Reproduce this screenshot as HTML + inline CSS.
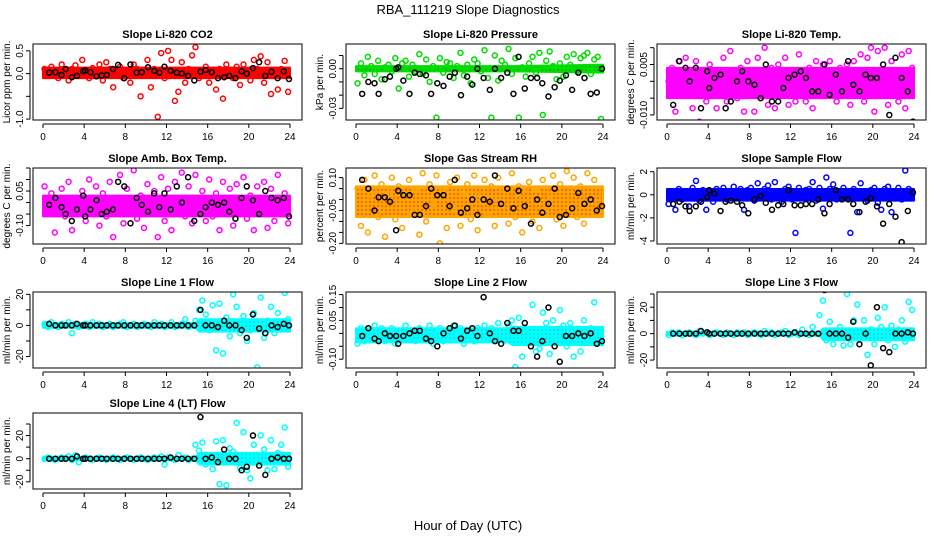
<!DOCTYPE html>
<html><head><meta charset="utf-8"><style>
html,body{margin:0;padding:0;background:#fff;}
svg{display:block;font-family:"Liberation Sans",sans-serif;}
</style></head><body>
<svg id="chart" width="936" height="540" viewBox="0 0 936 540" xmlns="http://www.w3.org/2000/svg">
<text x="468" y="14" font-size="13" text-anchor="middle">RBA_111219  Slope Diagnostics</text>
<text x="468" y="530" font-size="13" text-anchor="middle">Hour of Day (UTC)</text>
</svg>
<script>
const xTicks=[0,4,8,12,16,20,24];
const blackHours=[0.6,1.2,1.8,2.2,2.8,3.3,3.9,4.1,4.6,5.2,5.7,6.2,6.8,7.3,7.9,8.5,9.1,9.6,10.2,10.8,11.3,11.8,12.4,13.0,13.5,14.1,14.7,15.3,15.8,16.4,17.0,17.6,18.1,18.7,19.3,19.8,20.4,21.0,21.6,22.2,22.8,23.4,23.9];
const bandHours=[0,14.8,15.2,24];

const co2=[0.1,-0.05,0.15,0.0,-0.1,0.2,0.05,-0.15,0.1,0.18,-0.05,0.3,0.05,-0.1,0.12,0.0,0.2,-0.15,0.25,0.1,-0.3,0.05,0.15,-0.1,0.0,-0.2,0.2,0.1,-0.5,0.05,0.3,-0.3,0.1,-0.95,0.45,-0.1,0.5,0.3,-0.6,-0.4,0.25,-0.2,0.1,0.4,0.58,-0.1,0.0,0.15,-0.2,0.05,-0.35,0.1,-0.55,0.2,0.0,-0.1,0.15,-0.25,0.2,0.05,-0.15,0.3,0.1,0.38,-0.2,0.25,-0.45,0.0,-0.35,0.1,0.28,-0.4];
const co2Blk=[0.02,0.03,-0.03,0.1,-0.08,-0.05,0.05,0.07,0.03,-0.06,-0.04,-0.03,0.1,0.19,-0.1,0.2,0.02,0.03,0.14,0.06,0.02,0.15,0.06,0.02,0.0,-0.05,-0.15,0.04,0.08,0.03,-0.1,-0.08,-0.05,-0.1,0.05,0.0,0.12,0.25,-0.05,0.04,-0.1,0.05,-0.12];
const co2Lo=[-0.1,-0.1,-0.1,-0.1], co2Hi=[0.13,0.13,0.13,0.13];

const pres=[-0.011,0.004,-0.005,0.009,0.002,-0.004,0.006,-0.008,0.001,0.003,-0.002,0.008,-0.015,0.004,0.006,-0.006,0.003,-0.002,0.011,-0.004,0.007,-0.01,0.002,-0.037,0.008,-0.003,0.005,0.004,-0.007,0.002,0.012,-0.005,0.003,-0.011,0.007,0.004,-0.002,0.014,-0.007,-0.037,0.010,-0.009,0.006,0.003,0.015,-0.004,0.008,-0.037,0.001,-0.006,0.004,0.009,-0.003,0.012,-0.035,0.006,0.013,0.002,-0.008,0.004,-0.006,0.009,0.003,0.011,-0.002,0.008,0.01,0.012,-0.004,0.007,0.009,-0.038];
const presBlk=[-0.019,-0.01,-0.011,-0.019,-0.008,-0.006,0.0,0.001,-0.009,-0.019,-0.003,-0.004,-0.005,-0.019,-0.011,-0.013,-0.006,-0.003,-0.02,-0.006,-0.012,0.0,-0.007,-0.016,0.0,-0.007,-0.003,-0.019,0.009,-0.015,-0.007,-0.007,-0.011,-0.021,-0.014,-0.009,-0.005,-0.016,-0.003,-0.007,-0.019,-0.018,0.0];
const presLo=[-0.002,-0.002,-0.002,-0.003], presHi=[0.002,0.002,0.002,0.003];

const t820=[0.0,0.004,-0.009,0.006,-0.004,0.007,0.002,-0.008,0.006,-0.012,0.003,-0.006,0.005,-0.002,-0.008,0.001,0.007,-0.006,0.009,0.002,-0.005,0.004,-0.009,0.006,0.003,-0.009,0.007,-0.003,0.010,-0.007,0.004,-0.008,0.005,-0.002,0.007,-0.007,0.003,-0.006,0.008,0.001,-0.006,0.004,-0.008,0.006,-0.003,0.005,-0.002,0.006,0.001,-0.006,0.004,-0.003,0.005,-0.007,0.006,-0.002,0.008,-0.006,0.007,0.010,-0.009,0.009,-0.004,0.010,-0.007,0.006,0.003,-0.006,0.008,-0.008,0.009,0.004];
const t820Blk=[-0.007,0.006,0.004,0.0,0.004,-0.008,0.003,-0.002,0.001,0.002,-0.008,-0.006,0.0,0.003,0.0,-0.001,-0.005,0.005,-0.006,-0.006,-0.002,0.001,0.002,0.003,0.001,-0.003,-0.003,0.005,-0.004,0.002,-0.003,0.006,-0.001,-0.003,0.002,0.001,0.001,0.005,-0.01,0.007,0.001,-0.003,-0.012];
const t820Lo=[-0.005,-0.005,-0.005,-0.005], t820Hi=[0.004,0.004,0.004,0.004];

const amb=[0.07,-0.03,0.04,-0.13,0.01,0.06,-0.06,0.09,-0.12,0.02,-0.05,0.05,-0.08,0.10,-0.03,0.07,-0.10,0.04,-0.06,0.09,-0.15,0.02,0.12,-0.09,0.06,-0.04,0.14,-0.07,0.03,-0.11,0.08,-0.02,0.05,-0.15,0.11,-0.08,0.06,-0.12,0.09,-0.04,0.13,-0.06,0.07,-0.09,0.12,-0.03,0.05,-0.08,0.10,-0.06,0.04,-0.12,0.09,-0.02,0.06,-0.10,0.08,-0.05,0.11,-0.07,0.03,-0.12,0.07,-0.04,0.09,-0.11,0.06,-0.08,0.12,-0.05,0.04,-0.09];
const ambBlk=[-0.01,0.02,-0.02,-0.05,-0.08,-0.03,0.03,-0.06,-0.03,0.01,-0.05,-0.04,-0.03,0.09,0.07,-0.09,0.02,-0.01,-0.04,0.04,-0.02,0.04,-0.03,0.07,0.0,0.11,-0.08,-0.05,-0.02,0.0,-0.01,0.0,-0.04,-0.07,0.02,0.07,0.01,-0.05,0.05,0.02,0.01,0.02,-0.06];
const ambLo=[-0.06,-0.06,-0.06,-0.06], ambHi=[0.03,0.03,0.03,0.03];

const rh=[0.05,-0.12,0.09,-0.15,0.02,0.11,-0.08,0.07,-0.17,0.03,0.10,-0.09,0.06,-0.13,0.01,0.09,-0.06,0.04,-0.16,0.12,-0.10,0.07,-0.02,0.11,-0.20,0.05,-0.13,0.08,-0.04,0.10,-0.12,0.03,0.07,-0.09,0.11,-0.14,0.02,0.09,-0.07,0.06,-0.12,0.10,-0.05,0.04,-0.11,0.12,-0.08,0.06,-0.15,0.03,0.08,-0.10,0.05,-0.13,0.09,-0.06,0.02,0.11,-0.09,0.07,-0.12,0.13,-0.04,0.10,-0.08,0.06,-0.11,0.12,-0.07,0.09,-0.03,-0.06];
const rhBlk=[0.09,0.05,-0.05,0.01,0.01,-0.01,-0.14,0.04,0.02,0.02,-0.07,-0.07,-0.03,0.05,0.02,0.02,-0.03,0.09,-0.06,-0.04,0.0,-0.07,0.0,-0.01,0.11,-0.02,0.05,-0.04,0.04,-0.03,-0.11,0.0,-0.06,-0.02,0.05,-0.08,-0.07,-0.04,0.03,-0.02,0.0,-0.05,-0.03];
const rhLo=[-0.08,-0.08,-0.08,-0.08], rhHi=[0.06,0.06,0.06,0.06];

const sf=[-0.8,0.3,-1.3,0.5,-0.4,0.2,-1.0,0.6,1.2,-0.5,0.4,-1.3,0.3,-0.6,0.5,-0.2,0.6,-0.4,0.3,0.7,-0.3,0.5,-1.3,0.4,0.6,-0.5,1.0,-0.3,0.5,0.8,-0.4,1.1,0.3,-0.6,0.5,0.7,-0.4,-3.3,0.6,-0.3,0.4,0.5,1.1,-0.5,0.6,-1.2,1.5,0.5,0.9,-0.4,0.3,0.6,-0.3,-3.3,0.5,-1.5,1.0,0.3,-0.5,0.4,0.6,-0.7,-1.3,0.5,0.7,-1.5,0.3,0.6,-0.4,2.1,0.5,0.0];
const sfBlk=[-0.8,-0.6,-1.0,-1.4,-1.0,-0.6,-0.2,0.4,0.1,-1.4,-0.6,-0.5,-0.6,-0.9,-1.6,-0.4,-0.1,-0.7,-1.3,-0.9,-0.8,0.4,-0.9,-0.9,-0.8,-0.8,-0.4,-1.6,-0.8,0.4,-0.4,-0.4,-0.8,-1.5,-0.6,-0.3,-1.0,-2.5,-0.8,-1.9,-4.1,-1.4,0.2];
const sfLo=[-0.5,-0.5,-0.5,-0.5], sfHi=[0.5,0.5,0.5,0.5];

const l1=[1,-1,2,0,-1,1,0,2,-5,1,-1,0,1,-1,2,0,1,-1,0,1,-1,0,1,2,-1,0,1,-1,0,1,0,-1,2,0,1,-1,0,2,-1,0,1,4,-1,0,3,10,16,7,-3,13,-16,14,-18,5,-7,20,12,-5,6,-10,-3,8,-27,18,-8,3,12,-5,8,-2,21,4];
const l1Blk=[1,0,0,0,0,1,0,0,0,0,0,0,0,0,0,0,0,0,0,0,0,0,0,0,0,0,0,10,0,0,-1,3,0,0,-3,-8,7,-2,-5,0,-1,1,0];
const l1Lo=[-1.5,-1.5,-4,-4], l1Hi=[1.5,1.5,4,4];

const l2=[-0.04,0.02,-0.03,0.01,-0.02,0.03,-0.01,0.02,-0.03,0.0,0.02,-0.04,0.01,-0.02,0.03,-0.01,0.0,-0.03,0.02,-0.02,0.01,0.03,-0.04,0.0,0.02,-0.03,0.01,-0.02,0.03,-0.01,0.02,-0.04,0.0,0.01,-0.03,0.02,-0.02,0.03,-0.01,0.02,-0.03,0.04,0.0,-0.02,0.03,0.05,-0.13,0.06,-0.09,0.02,-0.03,0.11,-0.07,-0.06,0.08,0.04,-0.08,0.05,-0.02,0.09,0.03,-0.05,0.04,-0.09,0.01,-0.07,0.05,-0.03,0.02,0.12,-0.04,0.01];
const l2Blk=[-0.01,0.02,-0.02,-0.03,0.0,-0.01,-0.01,-0.04,-0.01,0.0,0.01,0.01,-0.02,-0.03,-0.05,0.0,0.02,0.03,-0.02,0.01,0.02,-0.01,0.14,0.0,-0.03,-0.04,0.04,0.01,0.01,0.04,-0.05,-0.09,-0.03,0.1,-0.05,-0.11,-0.01,-0.01,0.0,-0.01,0.0,-0.04,-0.03];
const l2Lo=[-0.035,-0.035,-0.045,-0.045], l2Hi=[0.02,0.02,0.025,0.025];

const l3=[-1,1,0,1,-1,0,1,0,-1,2,0,1,-1,0,1,0,-1,1,0,-1,1,0,1,-1,0,1,0,-1,2,0,1,-1,0,1,2,-1,0,1,-1,3,0,-1,5,0,14,25,-5,9,-8,2,5,-9,30,-8,10,22,-3,10,-16,3,-8,12,5,20,-5,6,-10,3,10,-6,24,18];
const l3Blk=[0,0,0,0,0,2,1,0,0,0,0,0,0,0,0,0,0,0,0,0,0,0,1,0,0,0,0,33,0,0,0,-3,9,-8,0,-24,20,-11,-14,0,0,1,0];
const l3Lo=[-1.2,-1.2,-5,-5], l3Hi=[1.2,1.2,4,4];

const l4=[0,1,0,-1,0,1,0,2,-1,3,-3,0,1,0,-1,0,1,0,-1,0,1,0,-1,0,1,0,-1,0,1,0,-1,0,1,0,2,-5,1,0,-1,3,0,1,-1,0,12,7,14,-5,3,-9,15,-22,16,-23,9,6,31,-8,23,-10,-17,12,-2,20,8,-10,16,-9,5,12,27,-7];
const l4Blk=[0,0,0,0,0,2,0,0,0,0,0,0,0,0,0,0,0,0,0,0,0,0,1,0,0,0,0,36,0,1,-3,8,0,0,-10,-7,20,-6,-14,0,1,0,0];
const l4Lo=[-1.2,-1.2,-5,-5], l4Hi=[1.2,1.2,5,5];

const co2Ticks=[-1.0,-0.5,0.0,0.5], co2Labels=["-1.0","","0.0","0.5"];
const presTicks=[-0.03,-0.02,-0.01,0.0,0.01], presLabels=["-0.03","","","0.00",""];
const t820Ticks=[-0.010,-0.005,0.0,0.005,0.010], t820Labels=["-0.010","","","0.005",""];
const ambTicks=[-0.10,-0.05,0.0,0.05,0.10,0.15], ambLabels=["-0.10","","","0.05","",""];
const rhTicks=[-0.20,-0.15,-0.10,-0.05,0.0,0.05,0.10], rhLabels=["-0.20","","","-0.05","","","0.10"];
const sfTicks=[-4,-2,0,2], sfLabels=["-4","-2","0","2"];
const l1Ticks=[-20,-10,0,10,20], l1Labels=["-20","","0","","20"];
const l2Ticks=[-0.10,-0.05,0.0,0.05,0.10,0.15], l2Labels=["-0.10","","","0.05","","0.15"];
const l3Ticks=[-20,-10,0,10,20,30], l3Labels=["-20","","0","","20",""];
const l4Ticks=[-20,-10,0,10,20,30], l4Labels=["-20","","0","","20",""];

const NS="http://www.w3.org/2000/svg";
const svg=document.getElementById('chart');
function mk(tag,attrs,parent){const e=document.createElementNS(NS,tag);for(const k in attrs)e.setAttribute(k,attrs[k]);(parent||svg).appendChild(e);return e;}

const panels=[
 {key:'co2',title:'Slope Li-820 CO2',ylab:'Licor ppm per min.',col:0,row:0,yMax:0.65,yMin:-1.02,color:'#ff0000',fill:'#ff0000',v:co2,b:co2Blk,lo:co2Lo,hi:co2Hi,ticks:co2Ticks,labels:co2Labels},
 {key:'pressure',title:'Slope Li-820 Pressure',ylab:'kPa per min.',col:1,row:0,yMax:0.0187,yMin:-0.0388,color:'#00dd00',fill:'#009900',v:pres,b:presBlk,lo:presLo,hi:presHi,ticks:presTicks,labels:presLabels},
 {key:'li820-temp',title:'Slope Li-820 Temp.',ylab:'degrees C per min.',col:2,row:0,yMax:0.0111,yMin:-0.0115,color:'#ff00ff',fill:'#ff00ff',v:t820,b:t820Blk,lo:t820Lo,hi:t820Hi,ticks:t820Ticks,labels:t820Labels},
 {key:'amb-box-temp',title:'Slope Amb. Box Temp.',ylab:'degrees C per min.',col:0,row:1,yMax:0.15,yMin:-0.18,color:'#ff00ff',fill:'#ff00ff',v:amb,b:ambBlk,lo:ambLo,hi:ambHi,ticks:ambTicks,labels:ambLabels},
 {key:'gas-stream-rh',title:'Slope Gas Stream RH',ylab:'percent per min.',col:1,row:1,yMax:0.144,yMin:-0.203,color:'#ffa500',fill:'#ee2200',v:rh,b:rhBlk,lo:rhLo,hi:rhHi,ticks:rhTicks,labels:rhLabels},
 {key:'sample-flow',title:'Slope Sample Flow',ylab:'ml/min per min.',col:2,row:1,yMax:2.32,yMin:-4.26,color:'#0000ff',fill:'#0000ff',v:sf,b:sfBlk,lo:sfLo,hi:sfHi,ticks:sfTicks,labels:sfLabels},
 {key:'line1-flow',title:'Slope Line 1 Flow',ylab:'ml/min per min.',col:0,row:2,yMax:21.5,yMin:-27.4,color:'#00ffff',fill:'#00cccc',v:l1,b:l1Blk,lo:l1Lo,hi:l1Hi,ticks:l1Ticks,labels:l1Labels},
 {key:'line2-flow',title:'Slope Line 2 Flow',ylab:'ml/min per min.',col:1,row:2,yMax:0.16,yMin:-0.134,color:'#00ffff',fill:'#00cccc',v:l2,b:l2Blk,lo:l2Lo,hi:l2Hi,ticks:l2Ticks,labels:l2Labels},
 {key:'line3-flow',title:'Slope Line 3 Flow',ylab:'ml/min per min.',col:2,row:2,yMax:31.5,yMin:-26,color:'#00ffff',fill:'#00cccc',v:l3,b:l3Blk,lo:l3Lo,hi:l3Hi,ticks:l3Ticks,labels:l3Labels},
 {key:'line4-flow',title:'Slope Line 4 (LT) Flow',ylab:'ml/min per min.',col:0,row:3,yMax:39.5,yMin:-26.2,color:'#00ffff',fill:'#00cccc',v:l4,b:l4Blk,lo:l4Lo,hi:l4Hi,ticks:l4Ticks,labels:l4Labels}
];
const lefts=[33,346,657], tops=[44,168,292,413], W=269, H=76;
const defs=mk('defs',{});

panels.forEach(p=>{
  const L=lefts[p.col], T=tops[p.row];
  const g=mk('g',{});
  
  
  const xs=h=>L+10+h*(W-22)/24;
  const ys=v=>T+(p.yMax-v)/(p.yMax-p.yMin)*H;
  const clipId='clip-'+p.key;
  const cp=mk('clipPath',{id:clipId},g); mk('rect',{x:L,y:T,width:W,height:H},cp);
  const patId='pat-'+p.key;
  const pat=mk('pattern',{id:patId,width:4,height:4,patternUnits:'userSpaceOnUse'},defs);
  mk('rect',{x:0,y:0,width:4,height:4,fill:p.color},pat);
  mk('circle',{cx:2,cy:2,r:0.8,fill:p.fill},pat);
  const t=mk('text',{x:L+W/2,y:T-6,'font-size':11,'font-weight':'bold','text-anchor':'middle'},g); t.textContent=p.title;
  
  
  const yl=mk('text',{x:0,y:0,'font-size':10,'text-anchor':'middle',transform:`translate(${L-23},${T+H/2}) rotate(-90)`},g); yl.textContent=p.ylab;
  
  
  const pg=mk('g',{'clip-path':`url(#${clipId})`},g);
  let d='M'+bandHours.map((h,i)=>xs(h)+','+ys(p.hi[i])).join('L');
  for(let i=bandHours.length-1;i>=0;i--) d+='L'+xs(bandHours[i])+','+ys(p.lo[i]);
  const band=mk('path',{d:d+'Z',fill:`url(#${patId})`,stroke:p.color,'stroke-width':2,'stroke-linejoin':'round'},pg);
  
  
  p.v.forEach((v,i)=>{
    const c=mk('circle',{cx:xs(i*24/p.v.length+0.15),cy:ys(v),r:2.5,fill:'none',stroke:p.color,'stroke-width':1.5},pg);
    
    
  });
  p.b.forEach((v,i)=>{
    const c=mk('circle',{cx:xs(blackHours[i]),cy:ys(v),r:2.5,fill:'none',stroke:'#000','stroke-width':1.5},pg);
    
    
  });
  const box=mk('rect',{x:L,y:T,width:W,height:H,fill:'none',stroke:'#000','stroke-width':1},g);
  
  
  mk('line',{x1:xs(0),x2:xs(24),y1:T+H+4,y2:T+H+4,stroke:'#000'},g);
  xTicks.forEach(h=>{
    mk('line',{x1:xs(h),x2:xs(h),y1:T+H+4,y2:T+H+8,stroke:'#000'},g);
    const tl=mk('text',{x:xs(h),y:T+H+20,'font-size':10,'text-anchor':'middle'},g); tl.textContent=h;
    
    
  });
  mk('line',{x1:L-3,x2:L-3,y1:ys(p.ticks[0]),y2:ys(p.ticks[p.ticks.length-1]),stroke:'#000'},g);
  p.ticks.forEach((v,i)=>{
    mk('line',{x1:L-7,x2:L-3,y1:ys(v),y2:ys(v),stroke:'#000'},g);
    if(p.labels[i]){
      const tl=mk('text',{x:0,y:0,'font-size':10,'text-anchor':'middle',transform:`translate(${L-10},${ys(v)}) rotate(-90)`},g); tl.textContent=p.labels[i];
      
      
    }
  });
});
</script>
</body></html>
